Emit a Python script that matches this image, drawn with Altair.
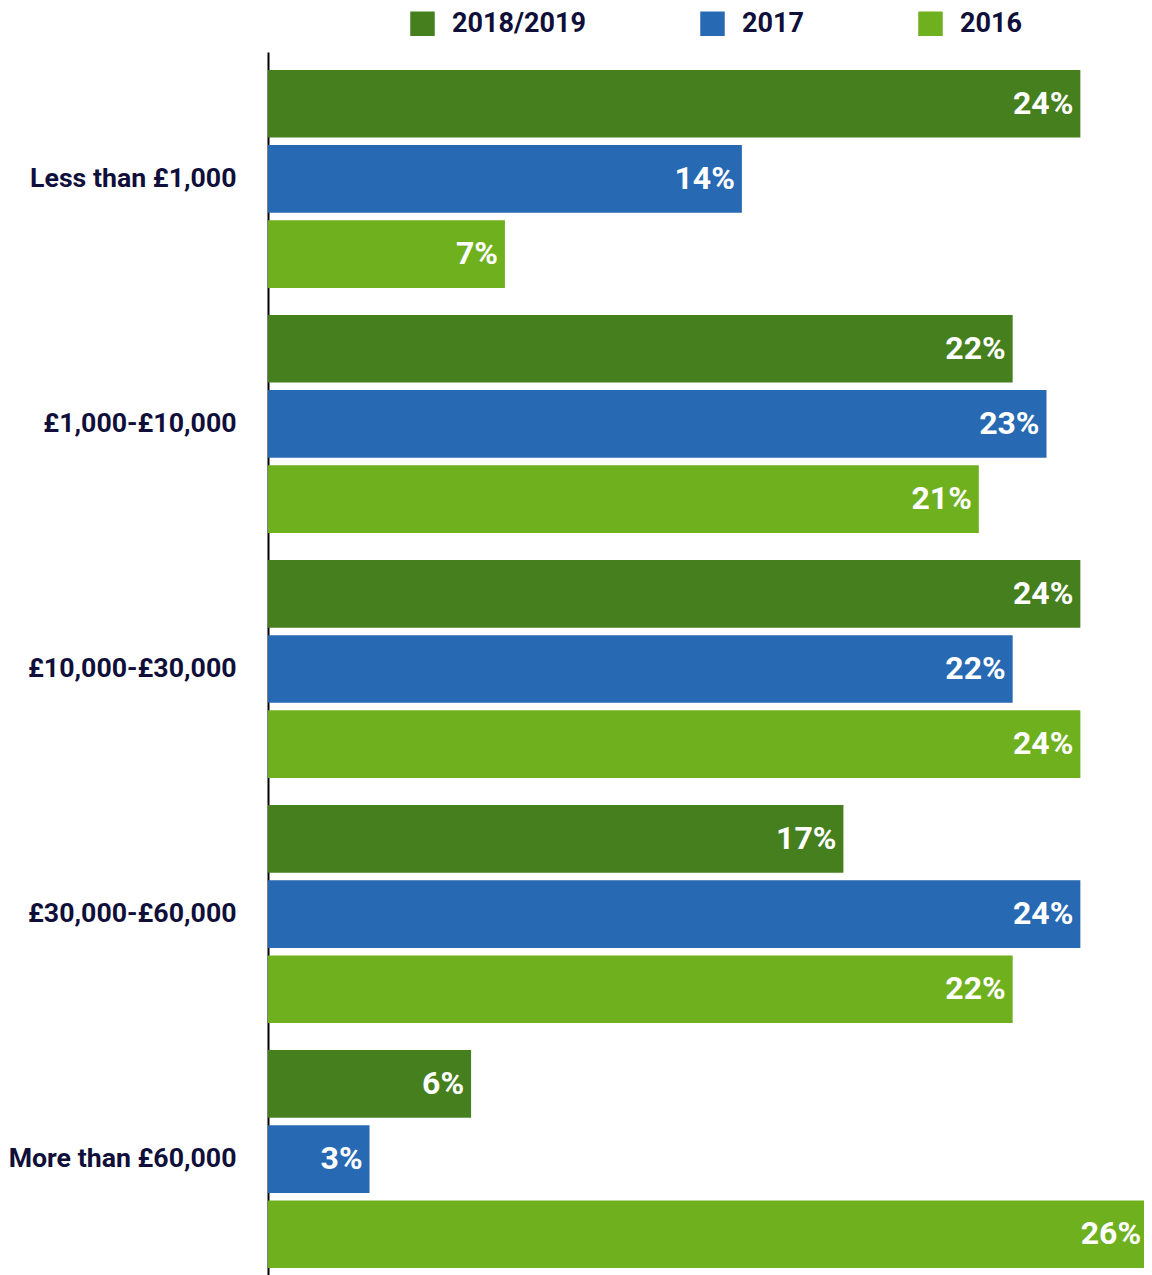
import altair as alt
import pandas as pd

categories = ["Less than £1,000", "£1,000-£10,000", "£10,000-£30,000",
              "£30,000-£60,000", "More than £60,000"]
series = ["2018/2019", "2017", "2016"]
v2018 = [24, 22, 24, 17, 6]
v2017 = [14, 23, 22, 24, 3]
v2016 = [7, 21, 24, 22, 26]
colors = ["#467f1e", "#2769b3", "#6fb01f"]

rows = []
for s, vals in zip(series, [v2018, v2017, v2016]):
    for c, v in zip(categories, vals):
        rows.append({"category": c, "series": s, "value": v, "label": f"{v}%"})
df = pd.DataFrame(rows)

y = alt.Y("category:N", sort=categories,
          scale=alt.Scale(paddingInner=0.11, paddingOuter=0.073),
          axis=alt.Axis(title=None, ticks=False, labelFont="Roboto",
                        labelFontWeight="bold", labelFontSize=26.7,
                        labelColor="#0f0f3a", labelPadding=32,
                        domainColor="black", domainWidth=2, labelLimit=400))
yoff = alt.YOffset("series:N", sort=series, scale=alt.Scale(paddingInner=0.1))
x = alt.X("value:Q", scale=alt.Scale(domain=[0, 25.88], nice=False), axis=None)

bars = alt.Chart(df).mark_bar(clip=True).encode(
    x=x, y=y, yOffset=yoff,
    color=alt.Color("series:N", sort=series,
                    scale=alt.Scale(domain=series, range=colors),
                    legend=alt.Legend(title=None, orient="none", direction="horizontal",
                                      legendX=141, legendY=-42,
                                      symbolType="square", symbolSize=600,
                                      symbolStrokeWidth=0,
                                      labelFont="Roboto", labelFontWeight="bold",
                                      labelFontSize=27, labelColor="#0f0f3a",
                                      labelOffset=16, columnPadding=113,
                                      padding=0))
)
text = alt.Chart(df).mark_text(
    align="right", baseline="middle", dx=-7, font="Roboto", clip=True,
    fontWeight="bold", fontSize=32, color="white"
).encode(x=x, y=y, yOffset=yoff, text="label:N")

chart = (bars + text).properties(
    width=876, height=1234,
    padding={"top": 2, "left": 0, "right": 0, "bottom": 0}
).configure_view(stroke=None)

chart.save("out.html", embed_options={"renderer": "svg", "actions": False})
